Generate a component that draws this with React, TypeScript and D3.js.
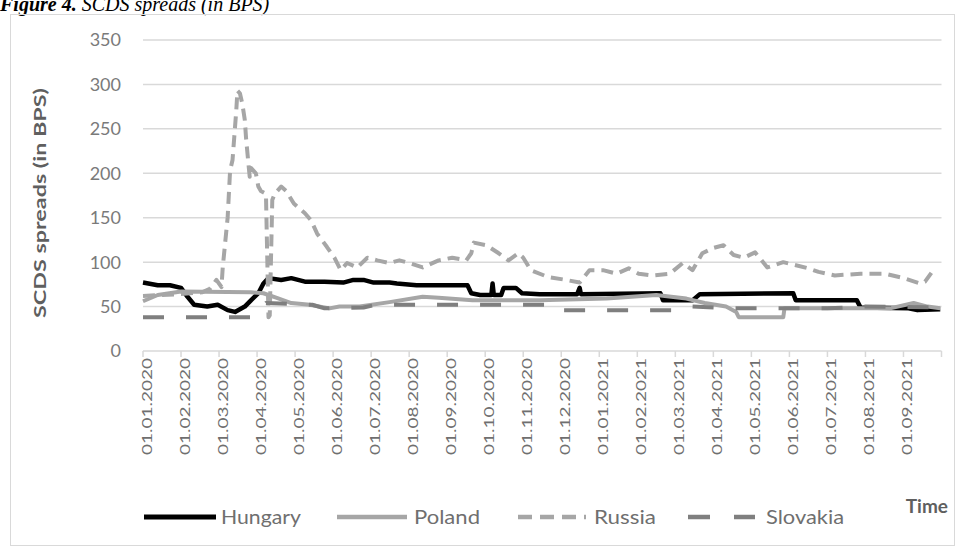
import React from "react";
import * as d3 from "d3";

// SCDS spreads in basis points, sampled as [date, value] pairs
const hungary: [string, number][] = [
  ["2020-01-01", 77], ["2020-01-13", 74], ["2020-01-23", 74], ["2020-02-01", 71],
  ["2020-02-06", 61], ["2020-02-11", 52], ["2020-02-21", 50], ["2020-02-29", 52],
  ["2020-03-08", 46], ["2020-03-14", 44], ["2020-03-22", 50], ["2020-03-27", 57],
  ["2020-04-02", 65], ["2020-04-06", 76], ["2020-04-10", 82], ["2020-04-20", 80],
  ["2020-04-28", 82], ["2020-05-09", 78], ["2020-05-25", 78], ["2020-06-09", 77],
  ["2020-06-17", 80], ["2020-06-25", 80], ["2020-07-03", 77], ["2020-07-16", 77],
  ["2020-07-22", 76], ["2020-08-07", 74], ["2020-09-17", 74], ["2020-09-20", 65],
  ["2020-09-27", 63], ["2020-10-06", 63], ["2020-10-07", 76], ["2020-10-08", 63],
  ["2020-10-14", 63], ["2020-10-16", 71], ["2020-10-26", 71], ["2020-10-31", 65],
  ["2020-11-14", 64], ["2020-12-14", 64], ["2020-12-16", 71], ["2020-12-17", 64],
  ["2021-02-18", 65], ["2021-02-20", 57], ["2021-03-15", 57], ["2021-03-21", 64],
  ["2021-06-04", 65], ["2021-06-06", 57], ["2021-07-25", 57], ["2021-07-28", 49],
  ["2021-09-05", 48], ["2021-09-12", 46], ["2021-09-30", 47],
];

const poland: [string, number][] = [
  ["2020-01-01", 56], ["2020-01-13", 63], ["2020-02-01", 67], ["2020-03-27", 66],
  ["2020-04-06", 65], ["2020-04-16", 60], ["2020-04-28", 54], ["2020-05-13", 52],
  ["2020-05-29", 48], ["2020-06-06", 50], ["2020-06-22", 50], ["2020-07-16", 55],
  ["2020-08-12", 61], ["2020-08-25", 60], ["2020-09-21", 57], ["2020-11-14", 57],
  ["2021-01-07", 59], ["2021-02-15", 63], ["2021-02-26", 61], ["2021-03-10", 59],
  ["2021-03-25", 54], ["2021-04-11", 50], ["2021-04-19", 44], ["2021-04-21", 38],
  ["2021-05-27", 38], ["2021-05-28", 48], ["2021-07-12", 48], ["2021-08-21", 48],
  ["2021-09-09", 54], ["2021-09-20", 50], ["2021-09-30", 48],
];

const russia: [string, number][] = [
  ["2020-01-01", 62], ["2020-02-01", 64], ["2020-02-17", 66], ["2020-02-23", 70],
  ["2020-02-28", 80], ["2020-03-03", 72], ["2020-03-04", 94], ["2020-03-08", 150],
  ["2020-03-10", 203], ["2020-03-12", 215], ["2020-03-15", 270], ["2020-03-16", 293],
  ["2020-03-18", 290], ["2020-03-20", 278], ["2020-03-22", 260], ["2020-03-23", 240],
  ["2020-03-25", 210], ["2020-03-26", 196], ["2020-03-27", 206], ["2020-03-31", 200],
  ["2020-04-02", 185], ["2020-04-04", 180], ["2020-04-08", 177], ["2020-04-10", 38],
  ["2020-04-11", 40], ["2020-04-13", 170], ["2020-04-15", 177], ["2020-04-20", 185],
  ["2020-04-24", 180], ["2020-04-30", 166], ["2020-05-09", 155], ["2020-05-14", 147],
  ["2020-05-19", 132], ["2020-05-27", 117], ["2020-06-02", 105], ["2020-06-07", 91],
  ["2020-06-12", 99], ["2020-06-20", 94], ["2020-06-28", 105], ["2020-07-06", 102],
  ["2020-07-16", 99], ["2020-07-24", 102], ["2020-08-01", 99], ["2020-08-12", 94],
  ["2020-08-25", 102], ["2020-09-05", 105], ["2020-09-16", 102], ["2020-09-20", 110],
  ["2020-09-22", 122], ["2020-10-02", 119], ["2020-10-12", 110], ["2020-10-20", 102],
  ["2020-10-28", 110], ["2020-11-01", 105], ["2020-11-07", 91], ["2020-11-21", 83],
  ["2020-12-05", 80], ["2020-12-16", 77], ["2020-12-24", 91], ["2021-01-04", 91],
  ["2021-01-15", 87], ["2021-01-25", 93], ["2021-02-02", 87], ["2021-02-12", 85],
  ["2021-02-25", 87], ["2021-03-07", 99], ["2021-03-15", 91], ["2021-03-23", 110],
  ["2021-04-01", 116], ["2021-04-09", 119], ["2021-04-17", 108], ["2021-04-25", 105],
  ["2021-05-04", 111], ["2021-05-14", 94], ["2021-05-27", 100], ["2021-06-16", 93],
  ["2021-06-24", 89], ["2021-07-07", 85], ["2021-07-28", 87], ["2021-08-17", 87],
  ["2021-09-01", 82], ["2021-09-14", 76], ["2021-09-18", 78], ["2021-09-23", 88],
];

const slovakia: [string, number][] = [
  ["2020-01-01", 38], ["2020-03-28", 38], ["2020-04-03", 45], ["2020-04-08", 54],
  ["2020-05-15", 52], ["2020-05-25", 48], ["2020-06-25", 49], ["2020-07-05", 52],
  ["2020-11-22", 52], ["2020-11-27", 46], ["2021-03-05", 46], ["2021-03-15", 50],
  ["2021-04-15", 48], ["2021-07-01", 48], ["2021-08-01", 50], ["2021-09-30", 49],
];

const yTicks = [0, 50, 100, 150, 200, 250, 300, 350];

const xTickLabels = [
  "01.01.2020", "01.02.2020", "01.03.2020", "01.04.2020", "01.05.2020", "01.06.2020",
  "01.07.2020", "01.08.2020", "01.09.2020", "01.10.2020", "01.11.2020", "01.12.2020",
  "01.01.2021", "01.02.2021", "01.03.2021", "01.04.2021", "01.05.2021", "01.06.2021",
  "01.07.2021", "01.08.2021", "01.09.2021",
];

const seriesNames = ["Hungary", "Poland", "Russia", "Slovakia"];

// Position of a date on a month-index axis (each month gets equal width)
const monthPos = (s: string) => {
  const [y, m, d] = s.split("-").map(Number);
  const dim = new Date(y, m, 0).getDate();
  return (y - 2020) * 12 + (m - 1) + (d - 1) / dim;
};

const W = 961;
const H = 549;
const plot = { left: 143, right: 941.5, top: 40, bottom: 351 };

const x = d3.scaleLinear().domain([0, 21]).range([plot.left, plot.right]);
const y = d3.scaleLinear().domain([0, 350]).range([plot.bottom, plot.top]);

const line = d3
  .line<[string, number]>()
  .x((d) => x(monthPos(d[0])))
  .y((d) => y(d[1]));

const styles = [
  { data: hungary, color: "#000000", width: 4.5, dash: "none" },
  { data: poland, color: "#a6a6a6", width: 4, dash: "none" },
  { data: russia, color: "#a6a6a6", width: 4, dash: "12 7" },
  { data: slovakia, color: "#7f7f7f", width: 4, dash: "21 22" },
];

const legendItems = [
  { lx: 144, lw: 72, tx: 221, tw: 80 },
  { lx: 337, lw: 70, tx: 414, tw: 66 },
  { lx: 518, lw: 68, tx: 594, tw: 62 },
  { lx: 688, lw: 67, tx: 766, tw: 78 },
];

const font = "Lato, 'Open Sans', sans-serif";

export default function App() {
  return (
    <svg
      width={W}
      height={H}
      style={{ position: "absolute", left: 0, top: 0, background: "#fff" }}
    >
      <rect x={0} y={0} width={W} height={H} fill="#fff" />
      <text x={0} y={11} fontFamily="'Liberation Serif', 'Times New Roman', serif" fontSize={20} fontStyle="italic" fill="#000">
        <tspan fontWeight="bold">Figure 4.</tspan>
        <tspan> SCDS spreads (in BPS)</tspan>
      </text>
      <rect x={10.5} y={14.5} width={944} height={531} fill="none" stroke="#d9d9d9" strokeWidth={1} />

      {/* gridlines and value labels */}
      {yTicks.map((t) => (
        <g key={t}>
          {t > 0 && (
            <line x1={plot.left} x2={plot.right} y1={y(t)} y2={y(t)} stroke="#d9d9d9" strokeWidth={1.5} />
          )}
          <text
            x={121}
            y={y(t)}
            dy="0.36em"
            textAnchor="end"
            fontFamily={font}
            fontSize={18}
            fill="#7a7a7a"
          >
            {t}
          </text>
        </g>
      ))}

      {/* category axis */}
      <line x1={plot.left} x2={plot.right} y1={plot.bottom} y2={plot.bottom} stroke="#d9d9d9" strokeWidth={1.5} />
      {d3.range(22).map((i) => (
        <line key={i} x1={x(i)} x2={x(i)} y1={plot.bottom} y2={plot.bottom + 6} stroke="#d9d9d9" strokeWidth={1.5} />
      ))}
      {xTickLabels.map((lab, i) => (
        <text
          key={lab}
          transform={`translate(${x(i) + 3.5},358) rotate(-90)`}
          dy="0.36em"
          textAnchor="end"
          fontFamily={font}
          fontSize={14}
          fill="#6f6f6f"
          textLength={97}
          lengthAdjust="spacingAndGlyphs"
        >
          {lab}
        </text>
      ))}

      <text
        transform="translate(40,203) rotate(-90)"
        dy="0.36em"
        textAnchor="middle"
        fontFamily={font}
        fontSize={17}
        fontWeight="bold"
        fill="#5f5f5f"
        textLength={230}
        lengthAdjust="spacingAndGlyphs"
      >
        SCDS spreads (in BPS)
      </text>

      {/* series */}
      {styles.map((s, i) => (
        <path
          key={seriesNames[i]}
          d={line(s.data) || ""}
          fill="none"
          stroke={s.color}
          strokeWidth={s.width}
          strokeDasharray={s.dash}
          strokeLinejoin="round"
        />
      ))}

      {/* legend */}
      {legendItems.map((l, i) => (
        <g key={seriesNames[i]}>
          <line
            x1={l.lx}
            x2={l.lx + l.lw}
            y1={517}
            y2={517}
            stroke={styles[i].color}
            strokeWidth={styles[i].width + 0.5}
            strokeDasharray={i === 2 ? "14 8" : i === 3 ? "22 24" : "none"}
          />
          <text
            x={l.tx}
            y={517}
            dy="0.36em"
            fontFamily={font}
            fontSize={20}
            fill="#6f6f6f"
            textLength={l.tw}
            lengthAdjust="spacingAndGlyphs"
          >
            {seriesNames[i]}
          </text>
        </g>
      ))}
      <text
        x={948}
        y={506}
        dy="0.36em"
        textAnchor="end"
        fontFamily={font}
        fontSize={19}
        fontWeight="bold"
        fill="#5f5f5f"
      >
        Time
      </text>
    </svg>
  );
}
